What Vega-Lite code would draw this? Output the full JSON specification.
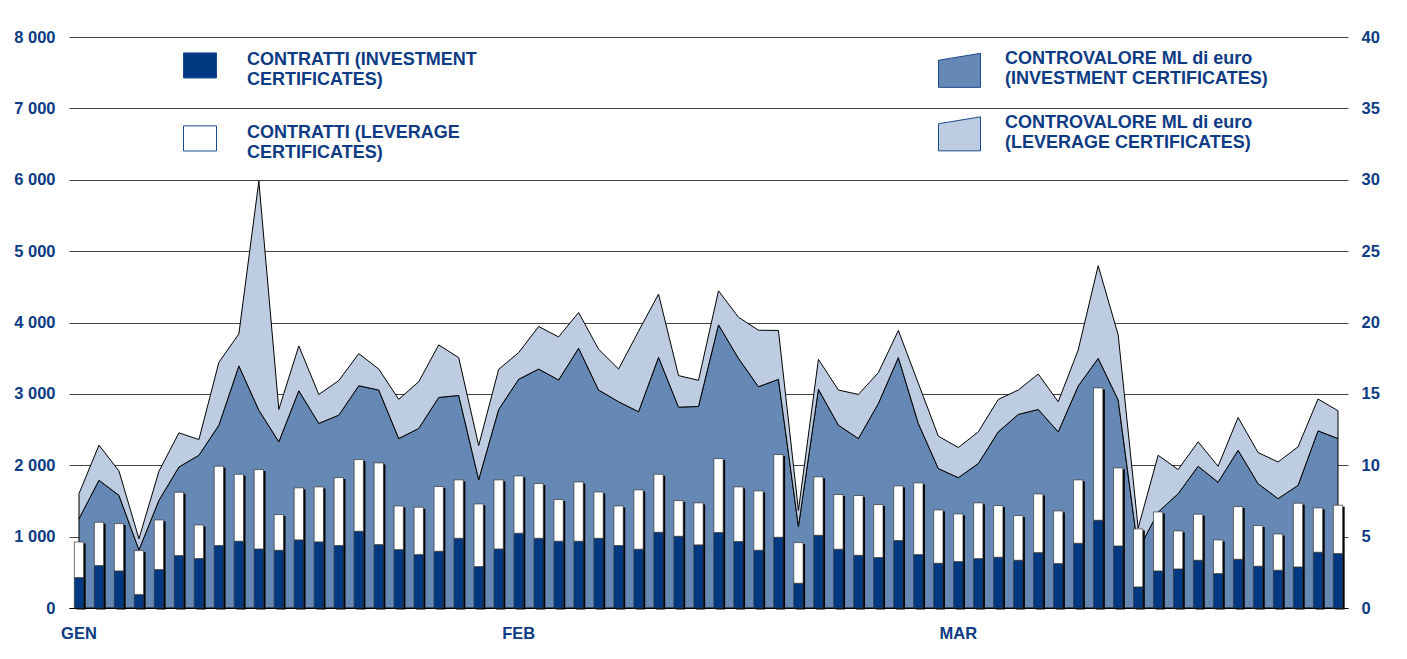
{
  "$schema": "https://vega.github.io/schema/vega-lite/v6.json",
  "width": 1279,
  "height": 571,
  "autosize": {"type": "none"},
  "padding": {"left": 69, "top": 37, "right": 59, "bottom": 51},
  "background": "white",
  "config": {
    "view": {"stroke": null},
    "font": "Liberation Sans",
    "axis": {"labelFont": "Liberation Sans", "labelFontWeight": "bold", "labelColor": "#0d3b84", "labelFontSize": 16.5, "ticks": false, "title": null},
    "legend": {"labelFont": "Liberation Sans", "labelFontWeight": "bold", "labelColor": "#0d3b84", "labelFontSize": 18, "title": null, "padding": 0, "labelLimit": 400}
  },
  "data": {"values": [
    {"giorno": 1, "contratti_inv": 426, "contratti_lev": 499, "valore_inv": 6.25, "valore_lev": 1.76},
    {"giorno": 2, "contratti_inv": 594, "contratti_lev": 607, "valore_inv": 8.95, "valore_lev": 2.46},
    {"giorno": 3, "contratti_inv": 519, "contratti_lev": 664, "valore_inv": 7.89, "valore_lev": 1.71},
    {"giorno": 4, "contratti_inv": 188, "contratti_lev": 616, "valore_inv": 4.07, "valore_lev": 0.78},
    {"giorno": 5, "contratti_inv": 538, "contratti_lev": 696, "valore_inv": 7.54, "valore_lev": 2.04},
    {"giorno": 6, "contratti_inv": 734, "contratti_lev": 888, "valore_inv": 9.88, "valore_lev": 2.39},
    {"giorno": 7, "contratti_inv": 692, "contratti_lev": 472, "valore_inv": 10.7, "valore_lev": 1.1},
    {"giorno": 8, "contratti_inv": 875, "contratti_lev": 1112, "valore_inv": 12.81, "valore_lev": 4.4},
    {"giorno": 9, "contratti_inv": 935, "contratti_lev": 939, "valore_inv": 16.96, "valore_lev": 2.24},
    {"giorno": 10, "contratti_inv": 827, "contratti_lev": 1113, "valore_inv": 13.86, "valore_lev": 16.05},
    {"giorno": 11, "contratti_inv": 809, "contratti_lev": 500, "valore_inv": 11.64, "valore_lev": 2.27},
    {"giorno": 12, "contratti_inv": 954, "contratti_lev": 729, "valore_inv": 15.22, "valore_lev": 3.14},
    {"giorno": 13, "contratti_inv": 926, "contratti_lev": 771, "valore_inv": 12.93, "valore_lev": 2.03},
    {"giorno": 14, "contratti_inv": 875, "contratti_lev": 953, "valore_inv": 13.51, "valore_lev": 2.42},
    {"giorno": 15, "contratti_inv": 1075, "contratti_lev": 1005, "valore_inv": 15.57, "valore_lev": 2.25},
    {"giorno": 16, "contratti_inv": 888, "contratti_lev": 1145, "valore_inv": 15.27, "valore_lev": 1.47},
    {"giorno": 17, "contratti_inv": 818, "contratti_lev": 612, "valore_inv": 11.87, "valore_lev": 2.75},
    {"giorno": 18, "contratti_inv": 748, "contratti_lev": 664, "valore_inv": 12.58, "valore_lev": 3.27},
    {"giorno": 19, "contratti_inv": 795, "contratti_lev": 907, "valore_inv": 14.75, "valore_lev": 3.68},
    {"giorno": 20, "contratti_inv": 977, "contratti_lev": 818, "valore_inv": 14.89, "valore_lev": 2.65},
    {"giorno": 21, "contratti_inv": 580, "contratti_lev": 878, "valore_inv": 8.99, "valore_lev": 2.39},
    {"giorno": 22, "contratti_inv": 827, "contratti_lev": 968, "valore_inv": 13.91, "valore_lev": 2.81},
    {"giorno": 23, "contratti_inv": 1047, "contratti_lev": 804, "valore_inv": 16.02, "valore_lev": 1.87},
    {"giorno": 24, "contratti_inv": 977, "contratti_lev": 767, "valore_inv": 16.74, "valore_lev": 2.98},
    {"giorno": 25, "contratti_inv": 935, "contratti_lev": 585, "valore_inv": 15.97, "valore_lev": 3.02},
    {"giorno": 26, "contratti_inv": 935, "contratti_lev": 832, "valore_inv": 18.2, "valore_lev": 2.5},
    {"giorno": 27, "contratti_inv": 977, "contratti_lev": 649, "valore_inv": 15.27, "valore_lev": 2.86},
    {"giorno": 28, "contratti_inv": 875, "contratti_lev": 555, "valore_inv": 14.45, "valore_lev": 2.29},
    {"giorno": 29, "contratti_inv": 823, "contratti_lev": 832, "valore_inv": 13.75, "valore_lev": 5.64},
    {"giorno": 30, "contratti_inv": 1061, "contratti_lev": 813, "valore_inv": 17.56, "valore_lev": 4.43},
    {"giorno": 31, "contratti_inv": 1005, "contratti_lev": 500, "valore_inv": 14.07, "valore_lev": 2.21},
    {"giorno": 32, "contratti_inv": 884, "contratti_lev": 589, "valore_inv": 14.12, "valore_lev": 1.83},
    {"giorno": 33, "contratti_inv": 1057, "contratti_lev": 1037, "valore_inv": 19.84, "valore_lev": 2.38},
    {"giorno": 34, "contratti_inv": 931, "contratti_lev": 766, "valore_inv": 17.49, "valore_lev": 2.88},
    {"giorno": 35, "contratti_inv": 809, "contratti_lev": 832, "valore_inv": 15.5, "valore_lev": 3.96},
    {"giorno": 36, "contratti_inv": 991, "contratti_lev": 1159, "valore_inv": 16.02, "valore_lev": 3.42},
    {"giorno": 37, "contratti_inv": 346, "contratti_lev": 570, "valore_inv": 5.71, "valore_lev": 1.13},
    {"giorno": 38, "contratti_inv": 1019, "contratti_lev": 818, "valore_inv": 15.32, "valore_lev": 2.1},
    {"giorno": 39, "contratti_inv": 823, "contratti_lev": 767, "valore_inv": 12.81, "valore_lev": 2.46},
    {"giorno": 40, "contratti_inv": 739, "contratti_lev": 837, "valore_inv": 11.87, "valore_lev": 3.09},
    {"giorno": 41, "contratti_inv": 706, "contratti_lev": 743, "valore_inv": 14.33, "valore_lev": 2.16},
    {"giorno": 42, "contratti_inv": 945, "contratti_lev": 766, "valore_inv": 17.54, "valore_lev": 1.9},
    {"giorno": 43, "contratti_inv": 748, "contratti_lev": 1005, "valore_inv": 12.93, "valore_lev": 2.81},
    {"giorno": 44, "contratti_inv": 627, "contratti_lev": 747, "valore_inv": 9.77, "valore_lev": 2.27},
    {"giorno": 45, "contratti_inv": 650, "contratti_lev": 668, "valore_inv": 9.13, "valore_lev": 2.11},
    {"giorno": 46, "contratti_inv": 692, "contratti_lev": 781, "valore_inv": 10.12, "valore_lev": 2.22},
    {"giorno": 47, "contratti_inv": 711, "contratti_lev": 724, "valore_inv": 12.34, "valore_lev": 2.27},
    {"giorno": 48, "contratti_inv": 669, "contratti_lev": 626, "valore_inv": 13.56, "valore_lev": 1.71},
    {"giorno": 49, "contratti_inv": 776, "contratti_lev": 822, "valore_inv": 13.91, "valore_lev": 2.48},
    {"giorno": 50, "contratti_inv": 622, "contratti_lev": 738, "valore_inv": 12.34, "valore_lev": 2.11},
    {"giorno": 51, "contratti_inv": 907, "contratti_lev": 888, "valore_inv": 15.55, "valore_lev": 2.53},
    {"giorno": 52, "contratti_inv": 1229, "contratti_lev": 1855, "valore_inv": 17.49, "valore_lev": 6.49},
    {"giorno": 53, "contratti_inv": 869, "contratti_lev": 1094, "valore_inv": 14.57, "valore_lev": 4.56},
    {"giorno": 54, "contratti_inv": 295, "contratti_lev": 813, "valore_inv": 4.04, "valore_lev": 1.56},
    {"giorno": 55, "contratti_inv": 519, "contratti_lev": 827, "valore_inv": 6.72, "valore_lev": 3.98},
    {"giorno": 56, "contratti_inv": 547, "contratti_lev": 533, "valore_inv": 8.01, "valore_lev": 1.69},
    {"giorno": 57, "contratti_inv": 669, "contratti_lev": 645, "valore_inv": 9.93, "valore_lev": 1.71},
    {"giorno": 58, "contratti_inv": 482, "contratti_lev": 472, "valore_inv": 8.81, "valore_lev": 1.12},
    {"giorno": 59, "contratti_inv": 683, "contratti_lev": 738, "valore_inv": 11.05, "valore_lev": 2.3},
    {"giorno": 60, "contratti_inv": 585, "contratti_lev": 570, "valore_inv": 8.71, "valore_lev": 2.18},
    {"giorno": 61, "contratti_inv": 529, "contratti_lev": 508, "valore_inv": 7.66, "valore_lev": 2.57},
    {"giorno": 62, "contratti_inv": 575, "contratti_lev": 893, "valore_inv": 8.59, "valore_lev": 2.7},
    {"giorno": 63, "contratti_inv": 781, "contratti_lev": 621, "valore_inv": 12.41, "valore_lev": 2.23},
    {"giorno": 64, "contratti_inv": 762, "contratti_lev": 678, "valore_inv": 11.87, "valore_lev": 1.95}
  ]},
  "encoding": {
    "x": {
      "field": "giorno", "type": "ordinal",
      "scale": {"type": "band", "paddingInner": 0.53, "paddingOuter": 0.265},
      "axis": {"values": [1, 23, 45], "labelExpr": "datum.value == 1 ? 'GEN' : datum.value == 23 ? 'FEB' : 'MAR'", "labelAngle": 0, "labelPadding": 17, "domain": true, "domainColor": "#000000", "domainWidth": 1, "grid": false}
    }
  },
  "layer": [
    {
      "transform": [{"fold": ["valore_inv", "valore_lev"], "as": ["serie_v", "valore_v"]}],
      "mark": {"type": "area", "interpolate": "linear", "stroke": "#000000", "strokeWidth": 1, "opacity": 1},
      "encoding": {
        "y": {"field": "valore_v", "type": "quantitative", "stack": "zero",
          "scale": {"domain": [0, 40], "nice": false},
          "axis": {"orient": "right", "values": [0, 5, 10, 15, 20, 25, 30, 35, 40], "grid": false, "domain": false, "labelPadding": 13}},
        "order": {"field": "serie_v", "sort": "ascending"},
        "color": {"field": "serie_v", "type": "nominal",
          "scale": {"domain": ["valore_inv", "valore_lev"], "range": ["#6688b4", "#bdcce0"]},
          "legend": {"orient": "none", "legendX": 869, "legendY": 0.5, "direction": "vertical",
            "symbolType": "M-1,0.06L1,-0.27L1,1.35L-1,1.35Z", "symbolSize": 1764, "symbolStrokeColor": "#1c4a8c", "symbolStrokeWidth": 1, "symbolOpacity": 1,
            "labelOffset": 24, "rowPadding": 11.5,
            "labelExpr": "datum.label == 'valore_inv' ? ['CONTROVALORE ML di euro', '(INVESTMENT CERTIFICATES)'] : ['CONTROVALORE ML di euro', '(LEVERAGE CERTIFICATES)']"}}
      }
    },
    {
      "transform": [{"fold": ["contratti_inv", "contratti_lev"], "as": ["serie_c", "valore_c"]}],
      "encoding": {
        "y": {"field": "valore_c", "type": "quantitative", "stack": "zero",
          "scale": {"domain": [0, 8000], "nice": false},
          "axis": {"orient": "left", "values": [0, 1000, 2000, 3000, 4000, 5000, 6000, 7000, 8000], "grid": true, "gridColor": "#444444", "gridWidth": 1, "domain": false, "labelPadding": 14,
            "labelExpr": "replace(format(datum.value, ','), ',', ' ')"}},
        "order": {"field": "serie_c", "sort": "ascending"}
      },
      "layer": [
        {
          "mark": {"type": "bar", "width": 9.3, "color": "#000000", "xOffset": 2, "yOffset": 1.5},
          "encoding": {"detail": {"field": "serie_c"}}
        },
        {
          "mark": {"type": "bar", "width": 9.3, "stroke": "#333333", "strokeWidth": 0.7, "opacity": 1},
          "encoding": {
            "color": {"field": "serie_c", "type": "nominal",
              "scale": {"domain": ["contratti_inv", "contratti_lev"], "range": ["#003882", "#ffffff"]},
              "legend": {"orient": "none", "legendX": 114, "legendY": 5.5, "direction": "vertical",
                "symbolType": "M-1,-0.4L1,-0.4L1,1.12L-1,1.12Z", "symbolSize": 1089, "symbolStrokeColor": "#1c4a8c", "symbolStrokeWidth": 1, "symbolOpacity": 1,
                "labelOffset": 30, "rowPadding": 27,
                "labelExpr": "datum.label == 'contratti_inv' ? ['CONTRATTI (INVESTMENT', 'CERTIFICATES)'] : ['CONTRATTI (LEVERAGE', 'CERTIFICATES)']"}}
          }
        }
      ]
    }
  ],
  "resolve": {"scale": {"y": "independent", "color": "independent"}}
}
